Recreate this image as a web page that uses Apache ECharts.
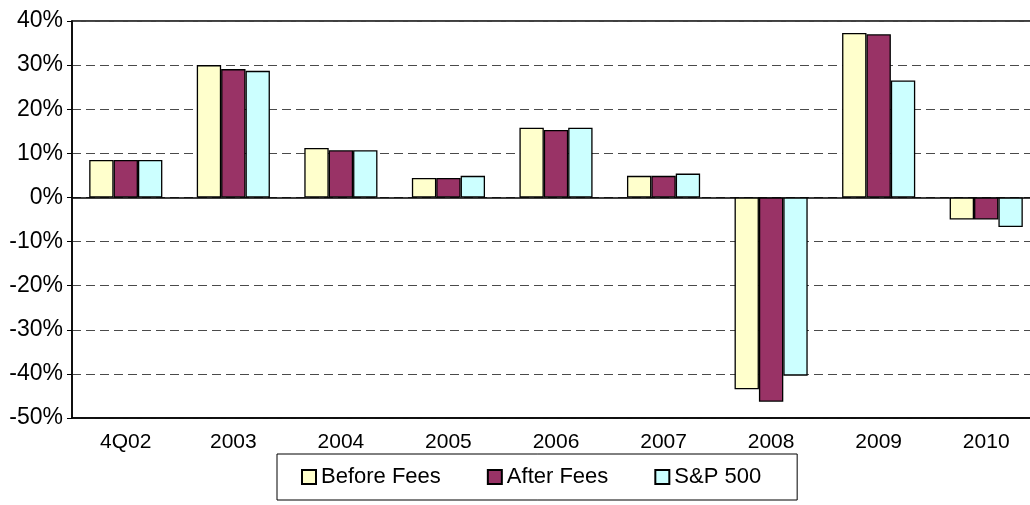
<!DOCTYPE html>
<html>
<head>
<meta charset="utf-8">
<script src="https://cdn.jsdelivr.net/npm/echarts@6/dist/echarts.min.js"></script>
<style>
  html, body { margin: 0; padding: 0; background: #fff; }
  #chart { width: 1030px; height: 505px; }
</style>
</head>
<body>
<div id="chart"></div>
<script>
const categories = ['4Q02', '2003', '2004', '2005', '2006', '2007', '2008', '2009', '2010'];
const beforeFees = [8.5, 30.0, 11.2, 4.4, 15.8, 4.9, -43.5, 37.3, -5.0];
const afterFees = [8.5, 29.1, 10.7, 4.4, 15.3, 4.9, -46.3, 37.0, -5.0];
const sp500 = [8.5, 28.7, 10.7, 4.9, 15.8, 5.4, -40.4, 26.5, -6.7];

const FONT = "'Liberation Sans', Arial, sans-serif";

const chart = echarts.init(document.getElementById('chart'));

function bar(name, data, color) {
  return {
    name: name,
    type: 'bar',
    data: data,
    barGap: '0%',
    barCategoryGap: '32%',
    itemStyle: { color: color, borderColor: '#000', borderWidth: 1.3 },
    emphasis: { disabled: true }
  };
}

chart.setOption({
  animation: false,
  textStyle: { fontFamily: FONT },
  // plot area runs a little past the right edge of the picture, as in the original
  grid: {
    left: 72, top: 21, width: 968, height: 397,
    outerBoundsMode: 'none',
    show: true, borderColor: '#000', borderWidth: 1.5
  },
  legend: {
    data: ['Before Fees', 'After Fees', 'S&P 500'],
    left: 277,
    top: 454,
    icon: 'rect',
    itemWidth: 14,
    itemHeight: 14,
    itemGap: 46,
    padding: [12, 36, 12, 24],
    borderColor: '#000',
    borderWidth: 1,
    textStyle: { fontSize: 22, color: '#000', fontFamily: FONT }
  },
  xAxis: [
    {
      type: 'category',
      data: categories,
      position: 'top',
      axisLine: { onZero: true, lineStyle: { color: '#000', width: 1.5 } },
      axisTick: { inside: true, length: 5, lineStyle: { color: '#000' } },
      axisLabel: { show: false },
      splitLine: { show: false }
    },
    {
      type: 'category',
      data: categories,
      position: 'bottom',
      axisLine: { onZero: false, lineStyle: { color: '#000', width: 1.5 } },
      axisTick: { length: 5, lineStyle: { color: '#000' } },
      axisLabel: { fontSize: 21, color: '#000', margin: 14, fontFamily: FONT },
      splitLine: { show: false }
    }
  ],
  yAxis: {
    type: 'value',
    min: -50,
    max: 40,
    interval: 10,
    axisLine: { show: true, lineStyle: { color: '#000', width: 1.5 } },
    axisTick: { show: true, length: 5, lineStyle: { color: '#000' } },
    axisLabel: { formatter: '{value}%', fontSize: 23, color: '#000', margin: 9, fontFamily: FONT },
    splitLine: { lineStyle: { color: '#4a4a4a', type: [9, 5], width: 1 } }
  },
  series: [
    bar('Before Fees', beforeFees, '#FFFFCC'),
    bar('After Fees', afterFees, '#993366'),
    bar('S&P 500', sp500, '#CCFFFF')
  ]
});
</script>
</body>
</html>
